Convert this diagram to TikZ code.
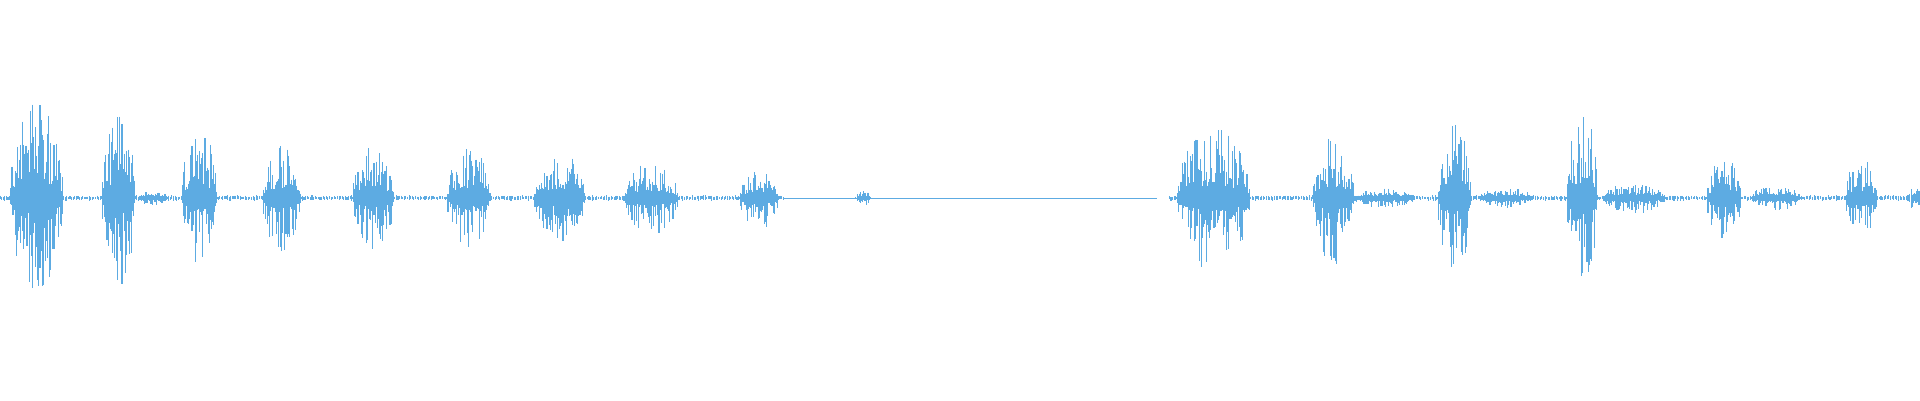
\documentclass[tikz,border=0pt]{standalone}
\begin{document}
\begin{tikzpicture}[x=0.5pt,y=0.5pt,wave/.style={draw={rgb,255:red,93;green,171;blue,226},line width=0.45pt}]
\pgfmathsetseed{7}
\useasboundingbox (0,0) rectangle (1568,326.7);
% baseline noise
\foreach \x in {0,1.3,...,640}{\pgfmathsetmacro\u{0.6+1.6*rnd}\pgfmathsetmacro\d{0.6+1.6*rnd}\draw[wave] (\x,165+\u) -- (\x,165-\d);}
\foreach \x in {955,956.3,...,1568}{\pgfmathsetmacro\u{0.6+1.6*rnd}\pgfmathsetmacro\d{0.6+1.6*rnd}\draw[wave] (\x,165+\u) -- (\x,165-\d);}
\draw[wave,line width=0.3pt] (640,165) -- (945,165);
% bursts
\foreach \c/\w/\a in {30/22/80, 97/14/72, 125/12/5, 163/15/55, 230/16/45, 305/17/42, 383/18/40, 440/4/15, 458/20/37, 515/5/10, 532/22/30, 620/16/25, 705/6/5, 991/30/60, 1089/17/55, 1130/25/7, 1188/14/60, 1230/22/7, 1292/13/72, 1335/25/12, 1408/14/35, 1450/20/10, 1520/13/32, 1563/6/8}{
  \pgfmathtruncatemacro\n{\w*2.3}
  \foreach \i in {0,...,\n}{
    \pgfmathsetmacro\t{\i/\n}
    \pgfmathsetmacro\x{\c-\w+2*\w*\t}
    \pgfmathsetmacro\e{\a*sqrt(abs(sin(180*\t)))}
    \pgfmathsetmacro\u{\e*(0.15+0.85*rnd^1.5)+1}
    \pgfmathsetmacro\d{\e*(0.15+0.85*rnd^1.5)+1}
    \draw[wave] (\x,165+\u) -- (\x,165-\d);
  }
}
\end{tikzpicture}
\end{document}
